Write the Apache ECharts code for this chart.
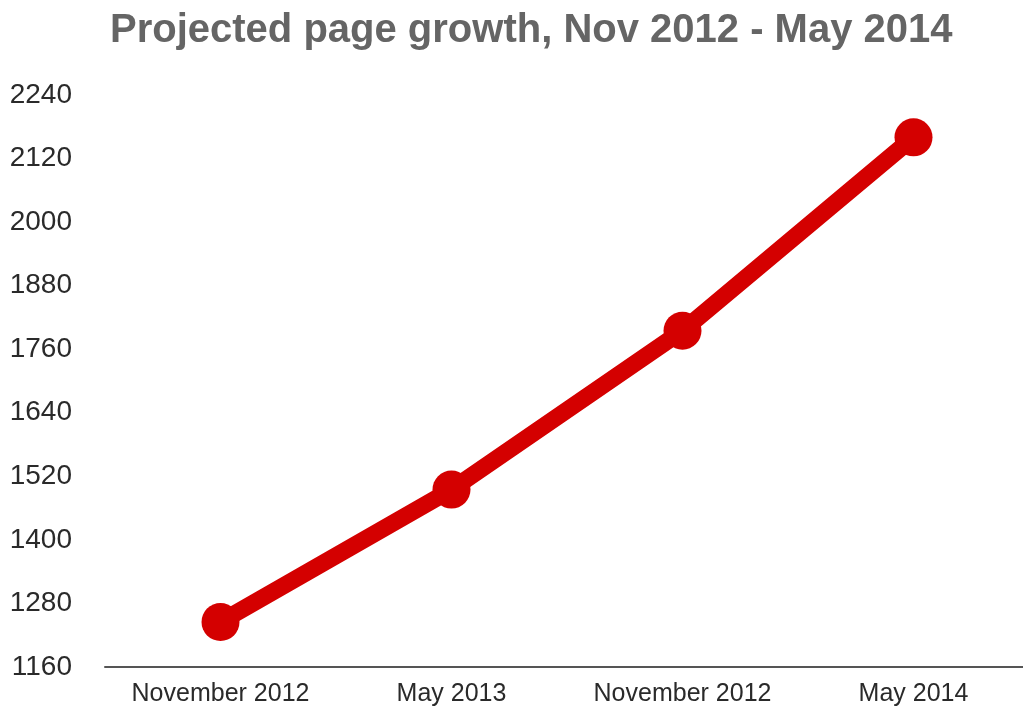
<!DOCTYPE html>
<html>
<head>
<meta charset="utf-8">
<script src="https://cdn.jsdelivr.net/npm/echarts@6/dist/echarts.min.js"></script>
<style>html,body{margin:0;padding:0;background:#fff;}#c{width:1023px;height:711px;}</style>
</head>
<body>
<div id="c"></div>
<script>
const titleText = 'Projected page growth, Nov 2012 - May 2014';
const categories = ['November 2012', 'May 2013', 'November 2012', 'May 2014'];
const pages = [1245, 1495, 1795, 2160];
const yMin = 1160, yMax = 2240, yStep = 120;

const chart = echarts.init(document.getElementById('c'), null, {renderer: 'canvas'});
chart.setOption({
  animation: false,
  backgroundColor: '#ffffff',
  title: {
    text: titleText,
    left: 105,
    top: 6,
    textStyle: {fontFamily: 'Liberation Sans, Arial, sans-serif', fontWeight: 'bold', fontSize: 40, color: '#656565'}
  },
  grid: {left: 105, width: 924, top: 95, bottom: 44, containLabel: false, outerBoundsMode: 'none'},
  xAxis: {
    type: 'category',
    data: categories,
    boundaryGap: true,
    axisLine: {show: true, lineStyle: {color: '#555555', width: 2}},
    axisTick: {show: false},
    axisLabel: {margin: 15, fontFamily: 'Liberation Sans, Arial, sans-serif', fontSize: 25, color: '#2a2a2a', interval: 0},
    splitLine: {show: false}
  },
  yAxis: {
    type: 'value',
    min: yMin, max: yMax, interval: yStep,
    axisLine: {show: false},
    axisTick: {show: false},
    splitLine: {show: false},
    axisLabel: {margin: 33, fontFamily: 'Liberation Sans, Arial, sans-serif', fontSize: 28, color: '#2a2a2a',
      formatter: function (v) { return String(v); }}
  },
  series: [{
    type: 'line',
    data: pages,
    symbol: 'circle',
    symbolSize: 38,
    lineStyle: {color: '#d40000', width: 17},
    itemStyle: {color: '#d40000'}
  }]
});
</script>
</body>
</html>
